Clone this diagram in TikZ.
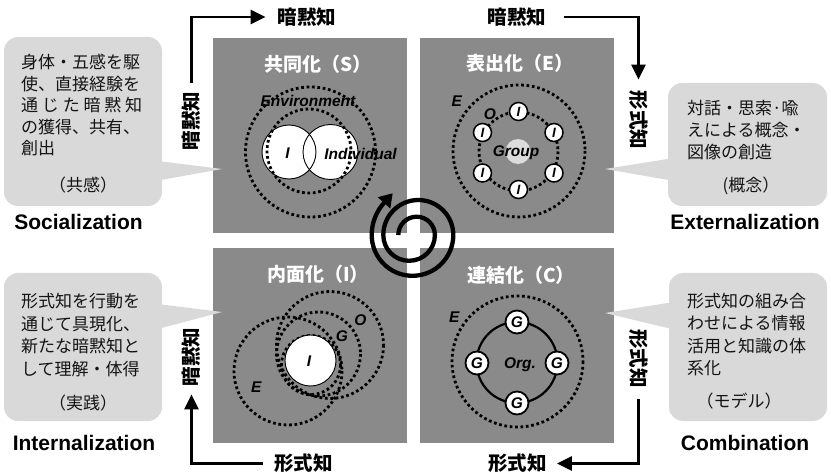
\documentclass[tikz,border=0pt]{standalone}
\usepackage{fontspec}
\setmainfont{Liberation Sans}
\newfontfamily\jp{Noto Sans CJK JP}
\usetikzlibrary{arrows.meta}
\definecolor{quadgray}{HTML}{8A8A8A}
\definecolor{calloutgray}{HTML}{D9D9D9}
\definecolor{groupgray}{HTML}{DCDCDC}
\definecolor{ink}{HTML}{141414}
\begin{document}
\begin{tikzpicture}[x=1pt,y=-1pt,
  quad/.style={fill=quadgray, draw=none, inner sep=0, minimum width=194pt, minimum height=195pt},
  cbox/.style={fill=calloutgray, rounded corners=14pt, inner sep=0},
  cptr/.style={fill=calloutgray},
  ttl/.style={font=\jp\bfseries\fontsize{19}{19}\selectfont, text=white, inner sep=0, anchor=base},
  klabel/.style={font=\jp\bfseries\fontsize{19.5}{19.5}\selectfont, inner sep=0},
  body/.style={font=\jp\fontsize{17}{17}\selectfont, inner sep=0, anchor=base west, text=ink},
  paren/.style={font=\jp\fontsize{17}{17}\selectfont, inner sep=0, anchor=base, text=ink},
  eng/.style={font=\bfseries\fontsize{21}{21}\selectfont, inner sep=0, anchor=base},
  lbl/.style={font=\bfseries\itshape\fontsize{15.5}{15.5}\selectfont, inner sep=0, anchor=base, text=black},
  dotc/.style={line width=2.8pt, dash pattern=on 2.7pt off 2.7pt},
  wfill/.style={circle, fill=white, inner sep=0},
  thinring/.style={line width=0.9pt},
  inode/.style={circle, fill=white, draw=black, line width=1.5pt, inner sep=0, minimum size=18pt, font=\bfseries\itshape\fontsize{13.5}{13.5}\selectfont},
  gnode/.style={circle, fill=white, draw=black, line width=1.8pt, inner sep=0, minimum size=23pt, font=\bfseries\itshape\fontsize{15.5}{15.5}\selectfont},
  arr/.style={line width=2.6pt, -{Triangle[length=15pt,width=14pt]}},
  spiralline/.style={line width=4.3pt, -{Triangle[length=13pt,width=16pt]}},
]
\useasboundingbox (0,0) rectangle (831,476);

% quadrants
\node[quad] (qS) at (310,135.2) {};
\node[quad] (qE) at (517,135.2) {};
\node[quad] (qI) at (310,345.2) {};
\node[quad] (qC) at (517,345.2) {};

% callouts
\node[cbox, minimum width=158pt, minimum height=169pt] (bS) at (83,121.5) {};
\fill[cptr] (150,160) -- (222,169) -- (150,182) -- cycle;
\node[cbox, minimum width=159pt, minimum height=123pt] (bE) at (747.5,144.5) {};
\fill[cptr] (680,157) -- (605,169) -- (680,182) -- cycle;
\node[cbox, minimum width=158pt, minimum height=148pt] (bI) at (83,347) {};
\fill[cptr] (150,303) -- (222,312) -- (150,331) -- cycle;
\node[cbox, minimum width=158pt, minimum height=148pt] (bC) at (748,347) {};
\fill[cptr] (680,301) -- (605,313) -- (680,331) -- cycle;

% callout texts
\node[body] (tS1) at (21,69) {身体・五感を駆};
\node[body] (tS2) at (21,90.5) {使、直接経験を};
\node[body] (tS3) at (21,112) {\makebox[121pt][s]{通\hfill じ\hfill た\hfill 暗\hfill 黙\hfill 知}};
\node[body] (tS4) at (21,133.5) {の獲得、共有、};
\node[body] (tS5) at (21,155) {創出};
\node[paren] (pS) at (83,191.5) {（共感）};

\node[body] (tE1) at (687,114.5) {対話・思索·喩};
\node[body] (tE2) at (687,136.5) {えによる概念・};
\node[body] (tE3) at (687,158.5) {図像の創造};
\node[paren] (pE) at (751,191.5) {(概念）};

\node[body] (tI1) at (21,307.5) {形式知を行動を};
\node[body] (tI2) at (21,330.5) {通じて具現化、};
\node[body] (tI3) at (21,352.5) {新たな暗黙知と};
\node[body] (tI4) at (21,375.5) {して理解・体得};
\node[paren] (pI) at (83,409.5) {（実践）};

\node[body] (tC1) at (687,307.5) {形式知の組み合};
\node[body] (tC2) at (687,329.5) {わせによる情報};
\node[body] (tC3) at (687,352.5) {活用と知識の体};
\node[body] (tC4) at (687,374.5) {系化};
\node[paren] (pC) at (739,407.5) {（モデル）};

% English labels
\node[eng] (nS) at (78.5,229.5) {Socialization};
\node[eng] (nE) at (745,229.5) {Externalization};
\node[eng] (nI) at (84,450) {Internalization};
\node[eng] (nC) at (745,450) {Combination};

% titles
\node[ttl] (hS) at (318,72) {共同化（S）};
\node[ttl] (hE) at (520,71) {表出化（E）};
\node[ttl] (hI) at (318,281) {内面化（I）};
\node[ttl] (hC) at (521,283) {連結化（C）};

% ---- Socialization diagram
\node[wfill, minimum size=54pt] (cL) at (289,152) {};
\node[wfill, minimum size=55pt] (cR) at (330.5,152) {};
\draw[thinring] (cL.center) circle[radius=27];
\draw[thinring] (cR.center) circle[radius=27.5];
\draw[dotc] (310.5,152) circle[radius=65];
\draw[dotc] (309,151) circle[radius=42];
\node[lbl] (env) at (308,107) {Environment};
\node[lbl] (lI) at (287.5,159) {I};
\node[lbl] (indiv) at (360.5,159.5) {Individual};

% ---- Externalization diagram
\draw[dotc] (519,151) circle[radius=66];
\draw[dotc] (518.5,151.5) circle[radius=39.5];
\node[circle, fill=groupgray, inner sep=0, minimum size=25pt] (grp) at (518,151.5) {};
\node[lbl] (grpt) at (516,157) {Group};
\node[inode] (i1) at (518.5,111.5) {I};
\node[inode] (i2) at (554,132.5) {I};
\node[inode] (i3) at (554,173) {I};
\node[inode] (i4) at (518.5,189.5) {I};
\node[inode] (i5) at (482.5,173) {I};
\node[inode] (i6) at (482.5,132.5) {I};
\node[lbl] (eE) at (456.7,106.7) {E};
\node[lbl] (eO) at (490,120) {O};

% ---- Internalization diagram
\draw[dotc] (288,371) circle[radius=54];
\draw[dotc] (330,345) circle[radius=53.5];
\draw[dotc] (318.5,354) circle[radius=42];
\draw[dotc] (311,365) circle[radius=29.5];
\node[wfill, draw=black, line width=0.9pt, minimum size=51pt] (iI) at (310.5,360.5) {};
\node[lbl] (iIt) at (309,366.7) {I};
\node[lbl] (iG) at (342,341.7) {G};
\node[lbl] (iO) at (360.5,325) {O};
\node[lbl] (iE) at (256.3,392.3) {E};

% ---- Combination diagram
\draw[dotc] (517.5,361.5) circle[radius=65.5];
\draw[line width=2.2pt] (517,362.5) circle[radius=40.5];
\node[gnode] (g1) at (517,322) {G};
\node[gnode] (g2) at (557,363) {G};
\node[gnode] (g3) at (517,403) {G};
\node[gnode] (g4) at (477,363) {G};
\node[lbl] (org) at (520,368) {Org.};
\node[lbl] (cE) at (454.3,323) {E};

% ---- spiral
\coordinate (sp0) at (398.3,235);
\draw[spiralline] (sp0)
  arc[start angle=180, end angle=360, radius=18.3]
  arc[start angle=0, end angle=180, radius=25.8]
  arc[start angle=180, end angle=360, radius=35]
  arc[start angle=0, end angle=180, radius=40.8]
  arc[start angle=180, end angle=222, radius=48]
  -- ++(312:13);

% ---- knowledge conversion arrows
\node[klabel] (tlh) at (307,17) {暗黙知};
\node[klabel, rotate=90] (tlv) at (191.5,121) {暗黙知};
\node[klabel] (trh) at (517,17) {暗黙知};
\node[klabel, rotate=-90] (trv) at (638.5,120) {形式知};
\node[klabel, rotate=-90] (brv) at (638.5,358.5) {形式知};
\node[klabel] (brh) at (517.5,463.5) {形式知};
\node[klabel] (blh) at (303.5,463.5) {形式知};
\node[klabel, rotate=90] (blv) at (191.5,357) {暗黙知};

\draw[arr] ([yshift=9pt]tlv.east) |- ([xshift=-12pt]tlh.west);
\draw[arr] ([xshift=18pt]trh.east) -| ([yshift=11pt]trv.west);
\draw[arr] ([yshift=-11pt]brv.east) |- ([xshift=10pt]brh.east);
\draw[arr] ([xshift=-11pt]blh.west) -| ([yshift=-8pt]blv.west);
\end{tikzpicture}
\end{document}
